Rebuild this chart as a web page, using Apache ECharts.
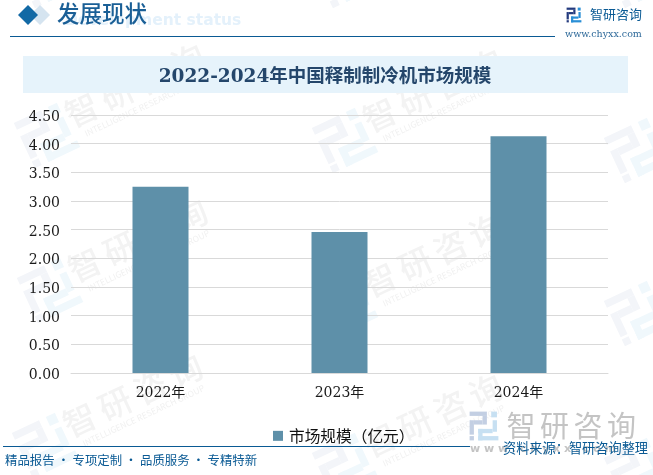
<!DOCTYPE html>
<html>
<head>
<meta charset="utf-8">
<style>html,body{margin:0;padding:0;background:#fff}#c{width:653px;height:475px}</style>
<script src="https://cdn.jsdelivr.net/npm/echarts@6/dist/echarts.min.js"></script>
</head>
<body>
<div id="c"></div>
<script>
var categories = ['2022年', '2023年', '2024年'];
var marketSize = [3.25, 2.46, 4.13];
var seriesName = '市场规模\uFF08亿元\uFF09';
var chartTitle = '2022-2024年中国释制制冷机市场规模';

var SANS = '"Noto Sans CJK SC","Noto Sans",sans-serif';
var SERIF = '"DejaVu Serif","Noto Sans CJK SC",serif';
var BLUE = '#0a5a94';

function logo(x, y, s, rot, cA, cB, z) {
  var A = [[0,0,24,6],[18,6,6,12],[6,12,12,6],[0,12,6,20],[0,34,6,6]];
  var B = [[30,0,8,8],[32,12,6,16],[12,24,20,6],[12,24,6,16],[12,34,28,6]];
  function r(a, c) {
    return a.map(function (q) {
      return {type:'rect', z:z, silent:true, shape:{x:q[0]-20,y:q[1]-20,width:q[2],height:q[3]}, style:{fill:c}};
    });
  }
  return {type:'group', x:x, y:y, scaleX:s, scaleY:s, rotation:rot, children:r(A,cA).concat(r(B,cB))};
}
function spaced(str, x, y, pitch, font, color, z) {
  return str.split('').map(function (ch, i) {
    return {type:'text', x:x+i*pitch, y:y, z:z, silent:true,
      style:{text:ch, font:font, fill:color, align:'center', verticalAlign:'middle'}};
  });
}
function mark(x, y) {
  var rot = 25 * Math.PI / 180;
  return [
    logo(x, y, 1.25, rot, '#f3f5f9', '#f0f8fc', -1),
    {type:'group', x:x, y:y, rotation:rot, children:
      spaced('智研咨询', 42, -8, 39, '500 33px ' + SANS, '#f3f3f3', -1).concat([
      {type:'text', x:35, y:15, z:-1, silent:true,
        style:{text:'INTELLIGENCE RESEARCH GROUP', font:'8.5px ' + SANS, fill:'#f1f1f1', verticalAlign:'middle'}}
    ])}
  ];
}

var g = [];
[[47,-25],[345,-25],[637,-25],[47,135],[345,140],[637,150],[50,290],[345,305],[637,313],[45,445],[345,465],[637,470]]
  .forEach(function (p) { g = g.concat(mark(p[0], p[1])); });

// header
g.push({type:'text', x:65, y:21, z:1, silent:true, style:{text:'Development status', font:'bold 15.5px "DejaVu Sans",sans-serif', fill:'#e4f1fb', verticalAlign:'middle'}});
g.push({type:'polygon', z:1, silent:true, shape:{points:[[30,15],[40,5],[50,15],[40,25]]}, style:{fill:'#d5e4f0'}});
g.push({type:'polygon', z:1, silent:true, shape:{points:[[18,15],[28,5],[38,15],[28,25]]}, style:{fill:'#1269a5'}});
g.push({type:'text', x:57, y:13, z:2, silent:true, style:{text:'发展现状', font:'500 22.5px ' + SANS, fill:'#1a5f96', verticalAlign:'middle'}});
g.push({type:'rect', z:1, silent:true, shape:{x:10,y:36,width:545,height:1}, style:{fill:BLUE}});
g.push(logo(574, 15, 0.37, 0, '#233a7e', '#2a8fd6', 2));
g.push({type:'text', x:590, y:14, z:2, silent:true, style:{text:'智研咨询', font:'13px ' + SANS, fill:BLUE, verticalAlign:'middle'}});
g.push({type:'text', x:565, y:35, z:2, silent:true, style:{text:'www.chyxx.com', font:'9.5px "DejaVu Serif",serif', fill:'#2f6a9a', verticalAlign:'middle'}});
// title band
g.push({type:'rect', z:0, silent:true, shape:{x:23,y:56,width:605,height:37}, style:{fill:'#e6f3fb'}});
// footer
g.push({type:'rect', z:1, silent:true, shape:{x:3,y:446,width:467,height:1}, style:{fill:BLUE}});
g.push({type:'text', x:5, y:460, z:2, silent:true, style:{text:'精品报告 · 专项定制 · 品质服务 · 专精特新', font:'12.4px ' + SANS, fill:BLUE, verticalAlign:'middle'}});
g.push(logo(484, 426, 0.72, 0, '#c3cfe3', '#c7e0f2', 1));
g = g.concat(spaced('智研咨询', 521, 426, 33.5, '29px ' + SANS, '#c4c4c4', 1));
g.push({type:'text', x:470, y:449, z:1, silent:true, style:{text:'w w w . c h y x x . c o m', font:'bold 11px "DejaVu Sans",sans-serif', fill:'#c4c4c4', verticalAlign:'middle'}});
g.push({type:'text', x:503, y:448, z:3, silent:true, style:{text:'资料来源\uFF1A智研咨询整理', font:'13.2px ' + SANS, fill:BLUE, verticalAlign:'middle'}});

var chart = echarts.init(document.getElementById('c'), null, {renderer:'canvas', width:653, height:475});
chart.setOption({
  animation:false,
  backgroundColor:'#fff',
  title:{text:chartTitle, left:320, top:61, textAlign:'center', z:5,
    textStyle:{fontFamily:SERIF, fontSize:18.5, fontWeight:'bold', color:'#24466b', lineHeight:22}},
  legend:{show:true, left:268, top:423, itemWidth:10, itemHeight:10, itemGap:3, icon:'rect', z:5,
    textStyle:{fontFamily:SANS, fontSize:15.7, color:'#111', padding:[0,0,0,1]}},
  grid:{left:71, right:45, top:115, bottom:102, containLabel:false},
  xAxis:{type:'category', data:categories,
    axisLine:{lineStyle:{color:'#d9d9d9', width:1}}, axisTick:{show:false},
    axisLabel:{fontFamily:SERIF, fontSize:14, color:'#1a1a1a', margin:13}},
  yAxis:{type:'value', min:0, max:4.5, interval:0.5,
    axisLine:{show:false}, axisTick:{show:false},
    splitLine:{lineStyle:{color:'#d9d9d9', width:1}},
    axisLabel:{margin:11,
      rich:{a:{fontFamily:SERIF, fontSize:14, color:'#1a1a1a', padding:[5,0,0,0]}},
      formatter:function (v) { return '{a|' + v.toFixed(2) + '}'; }}},
  series:[{name:seriesName, type:'bar', data:marketSize, barWidth:56,
    itemStyle:{color:'#5e90a9'}}],
  graphic:{elements:g}
});
</script>
</body>
</html>
